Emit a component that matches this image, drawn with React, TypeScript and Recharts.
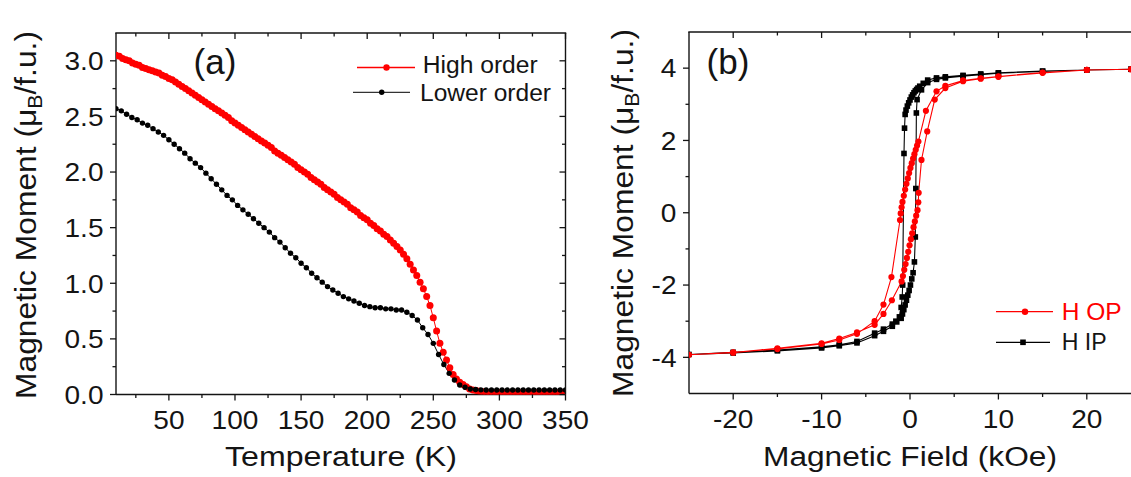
import React from 'react';
import { LineChart, Line, XAxis, YAxis } from 'recharts';

const FONT = '"Liberation Sans", Arial, Helvetica, sans-serif';

// (a) Temperature (K) vs magnetic moment (muB/f.u.)
const HIGH_ORDER: [number, number][] = [
  [10,3.05],[12.5,3.04],[15,3.02],[17.5,3.01],[20,3.00],[22.5,2.98],[25,2.97],[27.5,2.96],[30,2.94],[32.5,2.93],
  [35,2.92],[37.5,2.91],[40,2.90],[42.5,2.89],[45,2.87],[47.5,2.86],[50,2.84],[52.5,2.83],[55,2.81],[57.5,2.79],
  [60,2.77],[62.5,2.75],[65,2.73],[67.5,2.71],[70,2.69],[72.5,2.67],[75,2.65],[77.5,2.63],[80,2.61],[82.5,2.59],
  [85,2.57],[87.5,2.55],[90,2.53],[92.5,2.51],[95,2.49],[97.5,2.46],[100,2.44],[102.5,2.42],[105,2.40],[107.5,2.38],
  [110,2.36],[112.5,2.34],[115,2.32],[117.5,2.30],[120,2.28],[122.5,2.26],[125,2.24],[127.5,2.22],[130,2.19],[132.5,2.17],
  [135,2.15],[137.5,2.13],[140,2.11],[142.5,2.09],[145,2.07],[147.5,2.04],[150,2.02],[152.5,2.00],[155,1.98],[157.5,1.95],
  [160,1.93],[162.5,1.91],[165,1.89],[167.5,1.86],[170,1.84],[172.5,1.82],[175,1.80],[177.5,1.77],[180,1.75],[182.5,1.73],
  [185,1.71],[187.5,1.68],[190,1.66],[192.5,1.64],[195,1.61],[197.5,1.59],[200,1.57],[202.5,1.54],[205,1.52],[207.5,1.49],
  [210,1.47],[212.5,1.44],[215,1.42],[217.5,1.39],[220,1.36],[222.5,1.33],[225,1.30],[227.5,1.26],[230,1.22],[232.5,1.17],
  [235,1.12],[237.5,1.07],[240,1.01],[242.5,0.95],[245,0.88],[247.5,0.80],[250,0.69],[252.5,0.57],[255,0.46],[257.5,0.38],
  [260,0.31],[262.5,0.24],[265,0.18],[267.5,0.14],[270,0.11],[272.5,0.09],[275,0.07],[277.5,0.05],[280,0.04],[282.5,0.035],
  [285,0.03],[287.5,0.025],[290,0.02],[292.5,0.018],[295,0.016],[297.5,0.015],[300,0.015],[302.5,0.015],[305,0.015],[307.5,0.015],
  [310,0.015],[312.5,0.015],[315,0.015],[317.5,0.015],[320,0.015],[322.5,0.015],[325,0.015],[327.5,0.015],[330,0.015],[332.5,0.015],
  [335,0.015],[337.5,0.015],[340,0.015],[342.5,0.015],[345,0.015],[347.5,0.015],[350,0.015],
];

const LOWER_ORDER: [number, number][] = [
  [10,2.57],[14,2.55],[18,2.52],[22,2.49],[26,2.47],[30,2.44],[34,2.42],[38,2.39],[42,2.36],[46,2.33],
  [50,2.29],[54,2.25],[58,2.21],[62,2.17],[66,2.12],[70,2.08],[74,2.04],[78,1.99],[82,1.94],[86,1.89],
  [90,1.84],[94,1.79],[98,1.75],[102,1.70],[106,1.66],[110,1.62],[114,1.58],[118,1.54],[122,1.50],[126,1.46],
  [130,1.41],[134,1.37],[138,1.32],[142,1.27],[146,1.23],[150,1.18],[154,1.14],[158,1.09],[162,1.05],[166,1.01],
  [170,0.97],[174,0.94],[178,0.91],[182,0.88],[186,0.86],[190,0.84],[194,0.82],[198,0.80],[202,0.79],[206,0.78],
  [210,0.78],[214,0.77],[218,0.77],[222,0.76],[226,0.76],[230,0.74],[234,0.71],[238,0.67],[242,0.60],[246,0.54],
  [250,0.46],[254,0.36],[258,0.27],[262,0.19],[266,0.13],[270,0.085],[274,0.065],[278,0.05],[282,0.045],[286,0.042],
  [290,0.04],[294,0.04],[298,0.04],[302,0.04],[306,0.04],[310,0.04],[314,0.04],[318,0.04],[322,0.04],[326,0.04],
  [330,0.04],[334,0.04],[338,0.04],[342,0.04],[346,0.04],[350,0.04],
];

// (b) Magnetic field (kOe) vs magnetic moment, loops in measurement order
const H_OP: [number, number][] = [
  [25,3.97],[20,3.95],[15,3.88],[10,3.77],[8,3.72],[6,3.66],[4,3.51],[3,3.36],[1.8,2.82],[0.95,1.97],
  [0.8,1.86],[0.65,1.74],[0.5,1.62],[0.35,1.5],[0.2,1.37],[0.05,1.24],[-0.1,1.1],[-0.25,0.95],[-0.4,0.8],[-0.55,0.64],
  [-0.7,0.47],[-0.85,0.3],[-0.95,0.15],[-1.05,-0.02],[-1.13,-0.2],[-2.1,-1.78],[-3,-2.54],[-4,-3.0],[-6,-3.35],[-8,-3.52],
  [-10,-3.63],[-15,-3.77],[-20,-3.86],[-25,-3.93],
  [-20,-3.87],[-15,-3.75],[-10,-3.61],[-8,-3.48],[-6,-3.31],[-4,-3.1],[-3,-2.8],[-2.05,-2.42],[-0.95,-1.9],[-0.8,-1.75],
  [-0.65,-1.58],[-0.5,-1.42],[-0.35,-1.25],[-0.2,-1.08],[-0.05,-0.9],[0.1,-0.73],[0.25,-0.57],[0.4,-0.4],[0.55,-0.24],[0.7,-0.08],
  [0.85,0.07],[0.94,0.29],[0.98,0.55],[1.3,1.46],[1.95,2.25],[2.8,3.13],[4,3.45],[6,3.64],[8,3.71],[10,3.76],
  [15,3.87],[20,3.95],[25,3.97],
];

const H_IP: [number, number][] = [
  [25,3.97],[20,3.95],[15,3.92],[10,3.87],[8,3.84],[6,3.80],[4,3.76],[3,3.73],[2,3.67],[1.5,3.58],
  [1.1,3.5],[0.9,3.45],[0.75,3.41],[0.6,3.37],[0.45,3.32],[0.3,3.26],[0.15,3.2],[0,3.12],[-0.15,3.04],[-0.3,2.95],
  [-0.45,2.84],[-0.55,2.72],[-0.62,2.34],[-0.68,1.64],[-0.83,-2.0],[-0.88,-2.33],[-1.0,-2.62],[-1.2,-2.88],[-1.6,-3.0],[-2,-3.08],
  [-3,-3.22],[-4,-3.33],[-6,-3.56],[-8,-3.65],[-10,-3.71],[-15,-3.80],[-20,-3.86],[-25,-3.92],
  [-20,-3.88],[-15,-3.82],[-10,-3.74],[-8,-3.68],[-6,-3.6],[-4,-3.4],[-3,-3.28],[-2,-3.14],[-1.5,-3.02],[-1.0,-2.92],
  [-0.85,-2.8],[-0.7,-2.68],[-0.55,-2.55],[-0.4,-2.42],[-0.25,-2.28],[-0.1,-2.15],[0.05,-2.0],[0.2,-1.83],[0.35,-1.66],[0.5,-1.36],
  [0.6,-0.67],[0.66,0.67],[0.72,2.76],[0.8,3.13],[1.3,3.4],[2,3.6],[3,3.69],[4,3.73],[6,3.78],[8,3.82],
  [10,3.86],[15,3.91],[20,3.95],[25,3.97],
];

const A_X_MAJOR = [50, 100, 150, 200, 250, 300, 350];
const A_X_MINOR = [25, 75, 125, 175, 225, 275, 325];
const A_Y_MAJOR = [0, 0.5, 1, 1.5, 2, 2.5, 3];
const A_Y_MINOR = [0.25, 0.75, 1.25, 1.75, 2.25, 2.75];
const B_X_MAJOR = [-20, -10, 0, 10, 20];
const B_X_MINOR = [-15, -5, 5, 15];
const B_Y_MAJOR = [-4, -2, 0, 2, 4];
const B_Y_MINOR = [-3, -1, 1, 3];

const A_X_DOMAIN: [number, number] = [10, 350];
const A_Y_DOMAIN: [number, number] = [0, 3.25];
const B_X_DOMAIN: [number, number] = [-25, 25];
const B_Y_DOMAIN: [number, number] = [-5, 5];

const sortNum = (a: number[]) => [...a].sort((p, q) => p - q);
const A_X_TICKS = sortNum([...A_X_MAJOR, ...A_X_MINOR]);
const A_Y_TICKS = sortNum([...A_Y_MAJOR, ...A_Y_MINOR]);
const B_X_TICKS = sortNum([...B_X_MAJOR, ...B_X_MINOR]);
const B_Y_TICKS = sortNum([...B_Y_MAJOR, ...B_Y_MINOR]);

const highData = HIGH_ORDER.map(([t, m]) => ({ t, m }));
const lowerData = LOWER_ORDER.map(([t, m]) => ({ t, m }));
const opData = H_OP.map(([h, m]) => ({ h, m }));
const ipData = H_IP.map(([h, m]) => ({ h, m }));

// plot-frame geometry (layout only)
const A_PLOT = { top: 33, left: 116, width: 449.5, height: 361.5 };
const B_PLOT = { top: 32, left: 689, width: 442, height: 361.5 };

const INK = '#141414';
const AXIS = { stroke: INK, strokeWidth: 1.4 };
const TICK_FS = 26;
const STRETCH = 1.08;
const MAJOR_LEN = 6;
const MINOR_LEN = 3.5;

const charW = (c: string) => (c === '.' ? 0.278 : c === '-' ? 0.333 : 0.556);
const textW = (s: string, fs: number) => s.split('').reduce((a, c) => a + charW(c), 0) * fs;
const isMajor = (majors: number[], v: number) => majors.some((m) => Math.abs(m - v) < 1e-6);

const makeTick = (side: 'left' | 'bottom', majors: number[], fmt: (v: number) => string) =>
  (props: any) => {
    const { x, y, payload } = props;
    const v = payload.value as number;
    const major = isMajor(majors, v);
    const len = major ? MAJOR_LEN : MINOR_LEN;
    const s = fmt(v);
    if (side === 'left') {
      return (
        <g>
          <line x1={x} y1={y} x2={x - len} y2={y} stroke={INK} strokeWidth={1.3} />
          {major && (
            <text x={x - 12.5} y={y + 9.3} textAnchor="end" fontSize={TICK_FS} fontFamily={FONT} fill={INK}
              textLength={textW(s, TICK_FS) * STRETCH} lengthAdjust="spacingAndGlyphs">{s}</text>
          )}
        </g>
      );
    }
    return (
      <g>
        <line x1={x} y1={y} x2={x} y2={y + len} stroke={INK} strokeWidth={1.3} />
        {major && (
          <text x={x} y={y + 34.5} textAnchor="middle" fontSize={TICK_FS} fontFamily={FONT} fill={INK}
            textLength={textW(s, TICK_FS) * STRETCH} lengthAdjust="spacingAndGlyphs">{s}</text>
        )}
      </g>
    );
  };

const SquareDot = (p: any) => {
  if (p.cx == null || p.cy == null) return <g key={`s${p.index}`} />;
  return <rect key={`s${p.index}`} x={p.cx - 2.8} y={p.cy - 2.8} width={5.6} height={5.6} fill="#000" />;
};

const fmtA = (v: number) => v.toFixed(1);
const fmtInt = (v: number) => String(v);

function PanelA() {
  return (
    <LineChart width={600} height={477}
      margin={{ top: A_PLOT.top, right: 600 - A_PLOT.left - A_PLOT.width, bottom: 0, left: 0 }}>
      <XAxis type="number" dataKey="t" domain={A_X_DOMAIN} allowDataOverflow
        ticks={A_X_TICKS} interval={0} tickSize={0} tickMargin={0} tickLine={false}
        tick={makeTick('bottom', A_X_MAJOR, fmtInt)} axisLine={AXIS}
        height={477 - A_PLOT.top - A_PLOT.height} />
      <YAxis type="number" domain={A_Y_DOMAIN} allowDataOverflow
        ticks={A_Y_TICKS} interval={0} tickSize={0} tickMargin={0} tickLine={false}
        tick={makeTick('left', A_Y_MAJOR, fmtA)} axisLine={AXIS} width={A_PLOT.left} />
      <Line data={highData} dataKey="m" type="linear" stroke="#ff0000" strokeWidth={1}
        dot={{ r: 3.5, fill: '#ff0000', stroke: 'none' }} activeDot={false} isAnimationActive={false} />
      <Line data={lowerData} dataKey="m" type="linear" stroke="#000" strokeWidth={1}
        dot={{ r: 2.7, fill: '#000', stroke: 'none' }} activeDot={false} isAnimationActive={false} />
    </LineChart>
  );
}

function PanelB() {
  return (
    <LineChart width={531} height={477}
      margin={{ top: B_PLOT.top, right: 531 - (B_PLOT.left - 600) - B_PLOT.width, bottom: 0, left: 0 }}>
      <XAxis type="number" dataKey="h" domain={B_X_DOMAIN} allowDataOverflow
        ticks={B_X_TICKS} interval={0} tickSize={0} tickMargin={0} tickLine={false}
        tick={makeTick('bottom', B_X_MAJOR, fmtInt)} axisLine={AXIS}
        height={477 - B_PLOT.top - B_PLOT.height} />
      <YAxis type="number" domain={B_Y_DOMAIN} allowDataOverflow
        ticks={B_Y_TICKS} interval={0} tickSize={0} tickMargin={0} tickLine={false}
        tick={makeTick('left', B_Y_MAJOR, fmtInt)} axisLine={AXIS} width={B_PLOT.left - 600} />
      <Line data={ipData} dataKey="m" type="linear" stroke="#000" strokeWidth={1.1}
        dot={SquareDot} activeDot={false} isAnimationActive={false} />
      <Line data={opData} dataKey="m" type="linear" stroke="#ff0000" strokeWidth={1.1}
        dot={{ r: 3.1, fill: '#ff0000', stroke: 'none' }} activeDot={false} isAnimationActive={false} />
    </LineChart>
  );
}

// Frame decoration: top / right borders with inward mirrored ticks (Origin style)
type Plot = { top: number; left: number; width: number; height: number };
function Frame({ plot, xDom, yDom, xTicks, xMajors, yTicks, yMajors, right }: {
  plot: Plot; xDom: [number, number]; yDom: [number, number]; xTicks: number[]; xMajors: number[];
  yTicks: number[]; yMajors: number[]; right: boolean;
}) {
  const px = (v: number) => plot.left + ((v - xDom[0]) / (xDom[1] - xDom[0])) * plot.width;
  const py = (v: number) => plot.top + plot.height - ((v - yDom[0]) / (yDom[1] - yDom[0])) * plot.height;
  const r = plot.left + plot.width;
  return (
    <g stroke={INK}>
      <line x1={plot.left - 0.7} y1={plot.top} x2={r + 0.7} y2={plot.top} strokeWidth={1.4} />
      {xTicks.map((v) => (
        <line key={`t${v}`} x1={px(v)} y1={plot.top} x2={px(v)}
          y2={plot.top + (isMajor(xMajors, v) ? MAJOR_LEN : MINOR_LEN)} strokeWidth={1.3} />
      ))}
      {right && <line x1={r} y1={plot.top} x2={r} y2={plot.top + plot.height} strokeWidth={1.4} />}
      {right && yTicks.map((v) => (
        <line key={`r${v}`} x1={r} y1={py(v)} x2={r - (isMajor(yMajors, v) ? MAJOR_LEN : MINOR_LEN)}
          y2={py(v)} strokeWidth={1.3} />
      ))}
    </g>
  );
}

function YTitle({ x, y }: { x: number; y: number }) {
  return (
    <text transform={`translate(${x},${y}) rotate(-90)`} textAnchor="middle" fontSize={30} fontFamily={FONT}
      fill={INK} textLength={368} lengthAdjust="spacingAndGlyphs">
      Magnetic Moment (μ<tspan dy={6} fontSize={20}>B</tspan><tspan dy={-6}>/f.u.)</tspan>
    </text>
  );
}

function Overlay() {
  const t = { fontFamily: FONT, fill: INK } as const;
  return (
    <svg width={1131} height={477} style={{ position: 'absolute', left: 0, top: 0, pointerEvents: 'none' }}>
      <Frame plot={A_PLOT} xDom={A_X_DOMAIN} yDom={A_Y_DOMAIN} xTicks={A_X_TICKS} xMajors={A_X_MAJOR}
        yTicks={A_Y_TICKS} yMajors={A_Y_MAJOR} right />
      <Frame plot={B_PLOT} xDom={B_X_DOMAIN} yDom={B_Y_DOMAIN} xTicks={B_X_TICKS} xMajors={B_X_MAJOR}
        yTicks={B_Y_TICKS} yMajors={B_Y_MAJOR} right={false} />
      {/* panel (a) */}
      <YTitle x={36} y={215} />
      <text x={341} y={466} textAnchor="middle" fontSize={27} textLength={232} lengthAdjust="spacingAndGlyphs" {...t}>Temperature (K)</text>
      <text x={215} y={74} textAnchor="middle" fontSize={35} {...t}>(a)</text>
      <line x1={357} y1={67.5} x2={415} y2={67.5} stroke="#ff0000" strokeWidth={1.3} />
      <circle cx={386.5} cy={67.5} r={3.2} fill="#ff0000" />
      <text x={422.7} y={73} fontSize={23} textLength={115} lengthAdjust="spacingAndGlyphs" {...t}>High order</text>
      <line x1={353} y1={92.3} x2={410} y2={92.3} stroke="#333" strokeWidth={1.2} />
      <circle cx={381.7} cy={92.3} r={2.7} fill="#000" />
      <text x={420} y={100.7} fontSize={23.5} textLength={131} lengthAdjust="spacingAndGlyphs" {...t}>Lower order</text>
      {/* panel (b) */}
      <YTitle x={633} y={213} />
      <text x={910} y={466} textAnchor="middle" fontSize={27} textLength={294} lengthAdjust="spacingAndGlyphs" {...t}>Magnetic Field (kOe)</text>
      <text x={728} y={74} textAnchor="middle" fontSize={35} {...t}>(b)</text>
      <line x1={996} y1={311.7} x2={1053} y2={311.7} stroke="#ff0000" strokeWidth={1.2} />
      <circle cx={1025} cy={311.7} r={3.2} fill="#ff0000" />
      <text x={1061.7} y={319.5} fontSize={24} textLength={60} lengthAdjust="spacingAndGlyphs" fontFamily={FONT} fill="#ff0000">H OP</text>
      <line x1={996} y1={342.3} x2={1050} y2={342.3} stroke="#000" strokeWidth={1.2} />
      <rect x={1020.2} y={339.5} width={5.6} height={5.6} fill="#000" />
      <text x={1061.7} y={350} fontSize={24} textLength={45} lengthAdjust="spacingAndGlyphs" {...t}>H IP</text>
    </svg>
  );
}

export default function App() {
  return (
    <div style={{ position: 'absolute', left: 0, top: 0, width: 1131, height: 477, overflow: 'hidden', background: '#fff' }}>
      <div style={{ position: 'absolute', left: 0, top: 0 }}>
        <PanelA />
      </div>
      <div style={{ position: 'absolute', left: 600, top: 0 }}>
        <PanelB />
      </div>
      <Overlay />
    </div>
  );
}
